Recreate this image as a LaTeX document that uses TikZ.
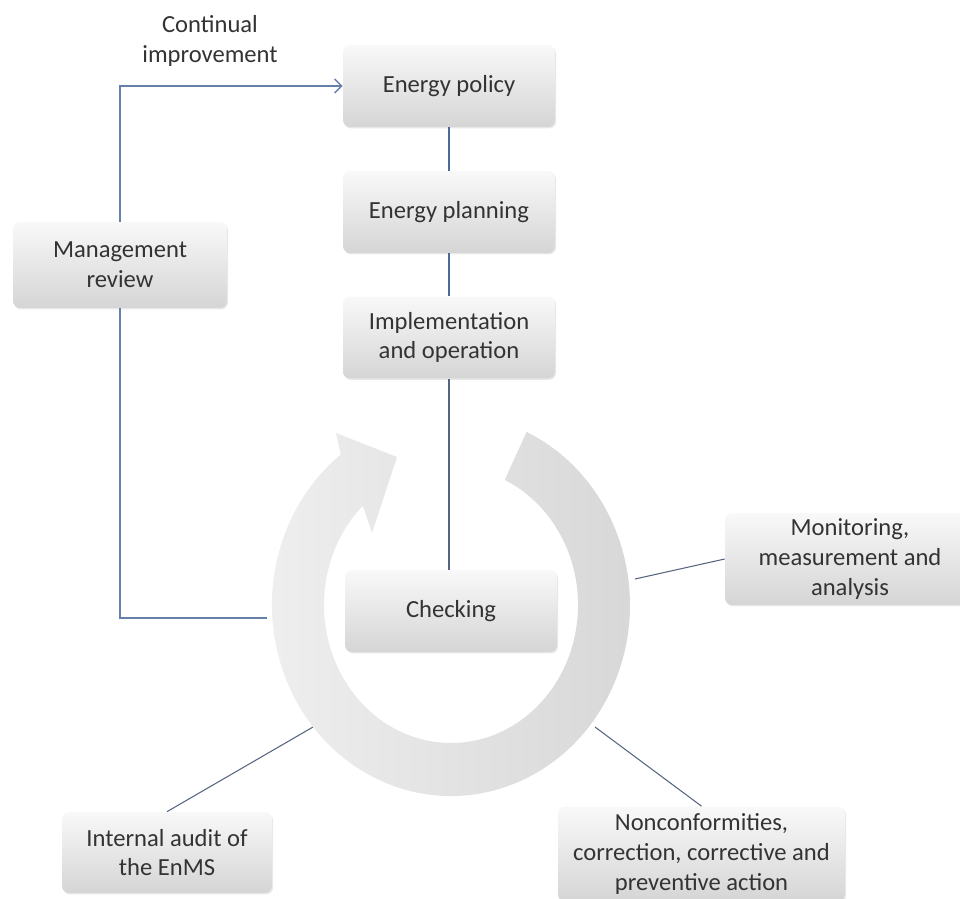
\documentclass[tikz,border=0pt]{standalone}
\usepackage{fontspec}
\setmainfont{Carlito}
\usetikzlibrary{arrows.meta,shadows}

\definecolor{linkblue}{HTML}{4A6A9A}
\definecolor{spokeblue}{HTML}{56657F}
\definecolor{boxtext}{HTML}{333333}

\tikzset{
  stage/.style={rounded corners=4pt, top color=gray!5, bottom color=gray!33,
    text=boxtext, align=center, font=\fontsize{14}{17}\selectfont,
    minimum width=4.24cm, minimum height=1.64cm, inner sep=2pt,
    drop shadow={opacity=0.18, shadow xshift=0.6pt, shadow yshift=-0.8pt}},
  link/.style={draw=linkblue, line width=1.4pt},
  feedback/.style={draw=linkblue!85, line width=0.8pt},
  spoke/.style={draw=spokeblue, line width=0.6pt},
}

\begin{document}
\begin{tikzpicture}[x=0.02cm, y=-0.02cm]
  \useasboundingbox (0,0) rectangle (960,899);
  \clip (0,0) rectangle (960,899);
  % boxes
  \node[stage] (policy) at (449,86) {Energy policy};
  \node[stage] (planning) at (449,212) {Energy planning};
  \node[stage] (implement) at (449,337.5) {Implementation\\and operation};
  \node[stage] (checking) at (451,611) {Checking};
  \node[stage, minimum width=4.28cm, minimum height=1.72cm] (review) at (120,265) {Management\\review};
  \node[stage, minimum width=5cm, minimum height=1.84cm] (monitor) at (850,559) {Monitoring,\\measurement and\\analysis};
  \node[stage, minimum width=5.74cm, minimum height=1.9cm] (nonconf) at (701.5,854) {Nonconformities,\\correction, corrective and\\preventive action};
  \node[stage, minimum width=4.2cm, minimum height=1.62cm] (audit) at (167,852.5) {Internal audit of\\the EnMS};
  % label of the feedback loop
  \node[align=center, text=boxtext, font=\fontsize{14}{17}\selectfont] (improve) at (210,41) {Continual\\improvement};
  % points on the ring
  \coordinate (ringW) at (267,618);
  \coordinate (ringE) at (635,579);
  \coordinate (ringSE) at (595,727);
  \coordinate (ringSW) at (313,727);
  % plan-do chain
  \draw[link] (policy) -- (planning);
  \draw[link] (planning) -- (implement);
  \draw[spoke] (implement.south) -- (implement.south |- checking.north);
  % feedback loop
  \draw[feedback, -{Straight Barb[length=4pt, width=8pt]}] (review.north) |- (policy.west);
  \draw[feedback] (review.south) |- (ringW);
  % checking steps
  \draw[spoke] (monitor.west) -- (ringE);
  \draw[spoke] (nonconf.north) -- (ringSE);
  \draw[spoke] (audit.north) -- (ringSW);
  % the ring arrow
  \begin{scope}[shift={(451,605)}, yscale=-1]
    \shade[left color=gray!12, right color=gray!32]
      (75.6,173.1) arc[start angle=65, end angle=-232, x radius=179, y radius=191]
      -- (-115,172) -- (-54,148) -- (-79,72)
      -- (-88.2,99.3) arc[start angle=-226, end angle=65, x radius=127, y radius=138]
      -- cycle;
  \end{scope}
\end{tikzpicture}
\end{document}
